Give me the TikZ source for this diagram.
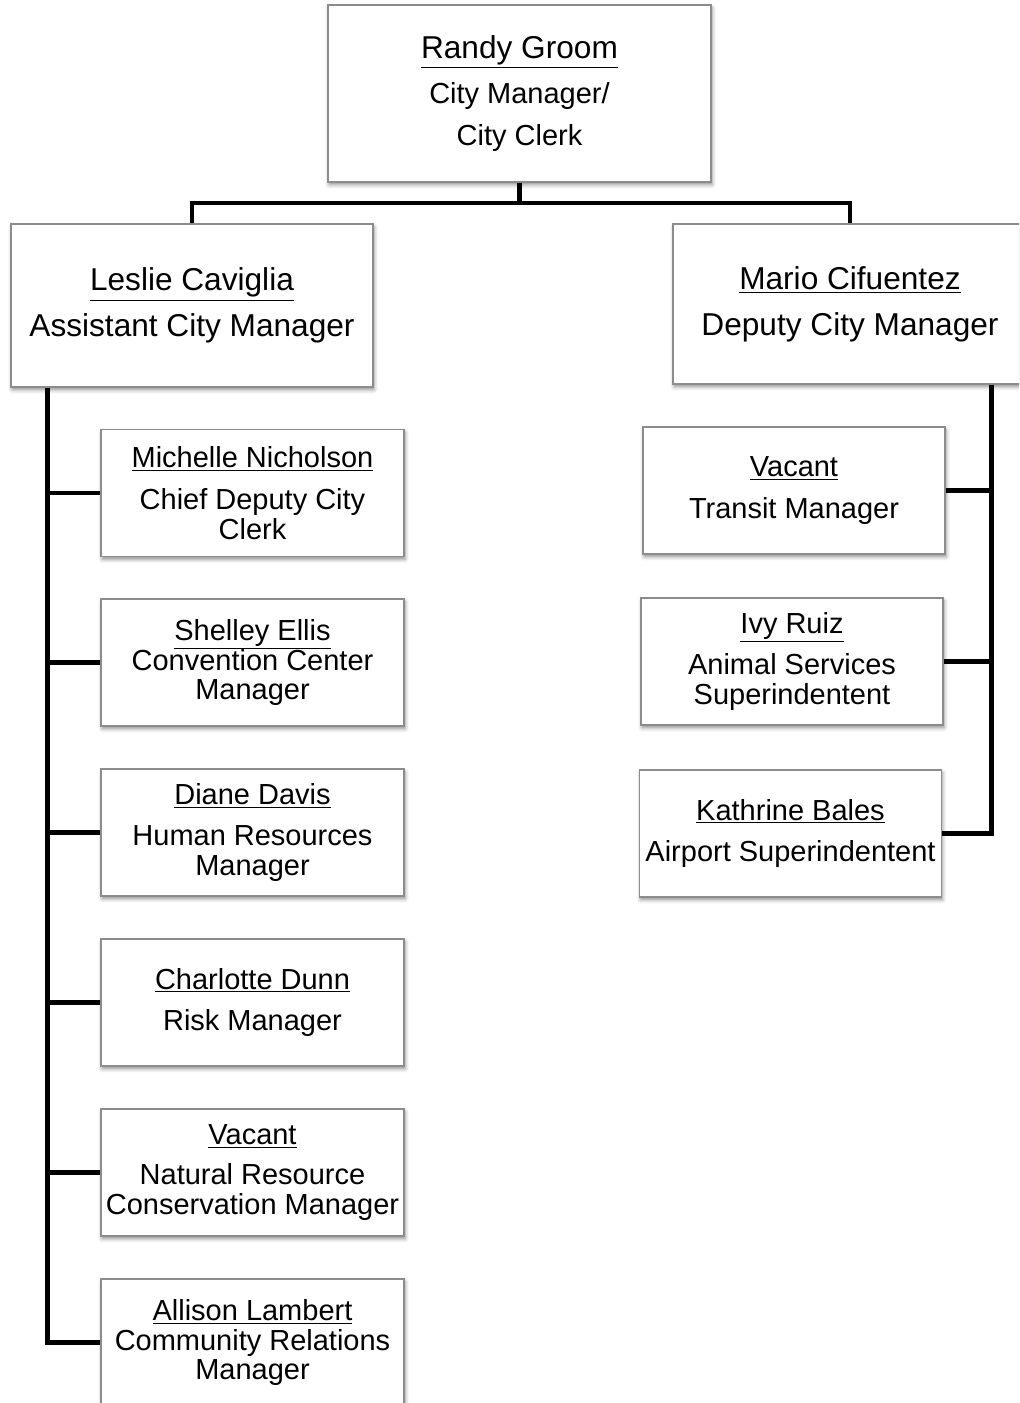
\documentclass[tikz,border=0pt]{standalone}
\usepackage{fontspec}
\setmainfont{Liberation Sans}
\usetikzlibrary{shadows.blur}

\newcommand{\bigname}{\fontsize{18}{21}\selectfont\lineskiplimit=-20pt}
\newcommand{\smallname}{\fontsize{16.5}{17}\selectfont\lineskiplimit=-20pt}

\begin{document}
\begin{tikzpicture}[x=0.02cm, y=-0.02cm,
  box/.style={draw=gray!90, line width=0.7pt, fill=white, align=center, inner sep=0pt,
    blur shadow={shadow xshift=0.6pt, shadow yshift=-1.6pt, shadow blur radius=2.2pt,
      shadow opacity=45}},
  headbox/.style={box, minimum width=7.66cm, minimum height=3.54cm, font=\smallname},
  mgrbox/.style={box, minimum height=3.2cm, font=\bigname},
  staffbox/.style={box, minimum width=6.06cm, minimum height=2.54cm, font=\smallname},
  conn/.style={line width=2.8pt, black}]

\clip (0,0) rectangle (1019,1403);

% --- Top ---
\node[headbox] (groom) at (519.5,93.5)
  {{\bigname\underline{Randy Groom}}\\[8.5pt] City Manager/\\[6.8pt] City Clerk};

% --- Second level ---
\node[mgrbox, minimum width=7.24cm, minimum height=3.26cm] (caviglia) at (192,305.5)
  {\underline{Leslie Caviglia}\\[5pt] Assistant City Manager};
\node[mgrbox, minimum width=7.08cm] (cifuentez) at (850,304)
  {\underline{Mario Cifuentez}\\[5pt] Deputy City Manager};

% --- Staff under Assistant City Manager ---
\node[staffbox] (nicholson) at (252.5,493)
  {\underline{Michelle Nicholson}\\[6.8pt] Chief Deputy City\\ Clerk};
\node[staffbox] (ellis) at (252.5,662.5)
  {\underline{Shelley Ellis}\\ Convention Center\\ Manager};
\node[staffbox] (davis) at (252.5,832.5)
  {\underline{Diane Davis}\\[6.8pt] Human Resources\\ Manager};
\node[staffbox] (dunn) at (252.5,1002.5)
  {\underline{Charlotte Dunn}\\[6.8pt] Risk Manager};
\node[staffbox] (conservation) at (252.5,1172.5)
  {\underline{Vacant}\\[6.2pt] Natural Resource\\ Conservation Manager};
\node[staffbox] (lambert) at (252.5,1342.5)
  {\underline{Allison Lambert}\\ Community Relations\\ Manager};

% --- Staff under Deputy City Manager ---
\node[staffbox, minimum width=6.04cm] (transit) at (794,490.5)
  {\underline{Vacant}\\[6.8pt] Transit Manager};
\node[staffbox, minimum width=6.04cm] (ruiz) at (792,661.5)
  {\underline{Ivy Ruiz}\\[6.8pt] Animal Services\\ Superindentent};
\node[staffbox, minimum width=6.04cm] (bales) at (790.5,833.5)
  {\underline{Kathrine Bales}\\[6.8pt] Airport Superindentent};

% --- Connectors ---
\coordinate (bar) at (519.5,203);
\draw[conn] (groom.south) -- (bar);
\draw[conn] (caviglia.north) |- (bar) -| (cifuentez.north);

\coordinate (lspine) at ([xshift=0.74cm]caviglia.south west);
\draw[conn] (lspine) |- (lambert.west);
\foreach \n in {nicholson, ellis, davis, dunn, conservation}
  \draw[conn] (\n.west) -- (\n.west -| lspine);

\coordinate (rspine) at ([xshift=-0.72cm]cifuentez.south east);
\draw[conn] (rspine) |- (bales.east);
\foreach \n in {transit, ruiz}
  \draw[conn] (\n.east) -- (\n.east -| rspine);

\end{tikzpicture}
\end{document}
